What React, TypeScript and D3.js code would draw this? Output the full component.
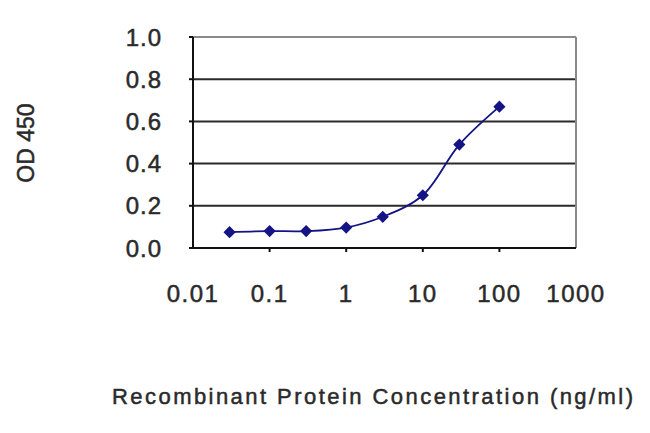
import React from 'react';
import * as d3 from 'd3';

const concentrations = [0.03, 0.1, 0.3, 1, 3, 10, 30, 100];
const odValues = [0.075, 0.08, 0.08, 0.097, 0.148, 0.25, 0.49, 0.67];
const xTicks = [0.01, 0.1, 1, 10, 100, 1000];
const xTickLabels = ['0.01', '0.1', '1', '10', '100', '1000'];
const yTicks = [0, 0.2, 0.4, 0.6, 0.8, 1.0];

const W = 650;
const H = 433;
const margin = { top: 37, right: 74, bottom: 185, left: 193 };
const navy = '#141485';

export default function App() {
  const w = W - margin.left - margin.right;
  const h = H - margin.top - margin.bottom;

  const x = d3.scaleLog().domain([0.01, 1000]).range([0, w]);
  const y = d3.scaleLinear().domain([0, 1]).range([h, 0]);

  const line = d3.line<number>()
    .x((_, i) => x(concentrations[i]))
    .y((d) => y(d))
    .curve(d3.curveCatmullRom.alpha(0.5));

  const diamond = d3.symbol().type(d3.symbolDiamond2).size(95)();

  const font = 'Arial, "Liberation Sans", sans-serif';
  // a thin outline thickens the glyphs like the blurry original
  const heavy = { stroke: '#2a2a2a', strokeWidth: 0.5 };

  return (
    <>
      <style>{'body{margin:0}'}</style>
      <svg width={W} height={H} style={{ display: 'block', background: '#fff' }}>
        <g transform={`translate(${margin.left},${margin.top})`}>
          {/* grid lines */}
          {yTicks.filter((t) => t > 0 && t < 1).map((t) => (
            <line key={t} x1={0} x2={w} y1={y(t)} y2={y(t)} stroke="#2a2a2a" strokeWidth={2} />
          ))}
          {/* frame */}
          <line x1={0} x2={w} y1={0} y2={0} stroke="#8a8a8a" strokeWidth={2} />
          <line x1={w} x2={w} y1={0} y2={h} stroke="#8a8a8a" strokeWidth={2} />
          <line x1={0} x2={0} y1={0} y2={h} stroke="#111" strokeWidth={2} />
          <line x1={0} x2={w} y1={h} y2={h} stroke="#111" strokeWidth={2} />

          {/* y ticks */}
          {yTicks.map((t) => (
            <g key={t} transform={`translate(0,${y(t)})`}>
              <line x1={-4} x2={0} stroke="#111" strokeWidth={2} />
              <text
                x={-31}
                dy="0.36em"
                textAnchor="end"
                fontFamily={font}
                fontSize={24}
                letterSpacing={1}
                fill="#2a2a2a"
                {...heavy}
              >
                {t.toFixed(1)}
              </text>
            </g>
          ))}

          {/* x ticks */}
          {xTicks.map((t, i) => (
            <g key={t} transform={`translate(${x(t)},${h})`}>
              {i > 0 && i < xTicks.length - 1 && (
                <line y1={0} y2={4} stroke="#111" strokeWidth={2} />
              )}
              <text
                y={54}
                textAnchor="middle"
                fontFamily={font}
                fontSize={24}
                letterSpacing={1.5}
                fill="#2a2a2a"
                {...heavy}
              >
                {xTickLabels[i]}
              </text>
            </g>
          ))}

          {/* curve */}
          <path d={line(odValues) ?? ''} fill="none" stroke={navy} strokeWidth={1.8} />
          {odValues.map((v, i) => (
            <path
              key={i}
              d={diamond ?? ''}
              transform={`translate(${x(concentrations[i])},${y(v)})`}
              fill={navy}
            />
          ))}
        </g>

        {/* axis titles */}
        <text
          transform="translate(34,143) rotate(-90)"
          textAnchor="middle"
          fontFamily={font}
          fontSize={23}
          fill="#2a2a2a"
          {...heavy}
        >
          OD 450
        </text>
        <text
          x={112}
          y={404}
          textLength={521}
          lengthAdjust="spacing"
          fontFamily={font}
          fontSize={22}
          fill="#2a2a2a"
          {...heavy}
        >
          Recombinant Protein Concentration (ng/ml)
        </text>
      </svg>
    </>
  );
}
